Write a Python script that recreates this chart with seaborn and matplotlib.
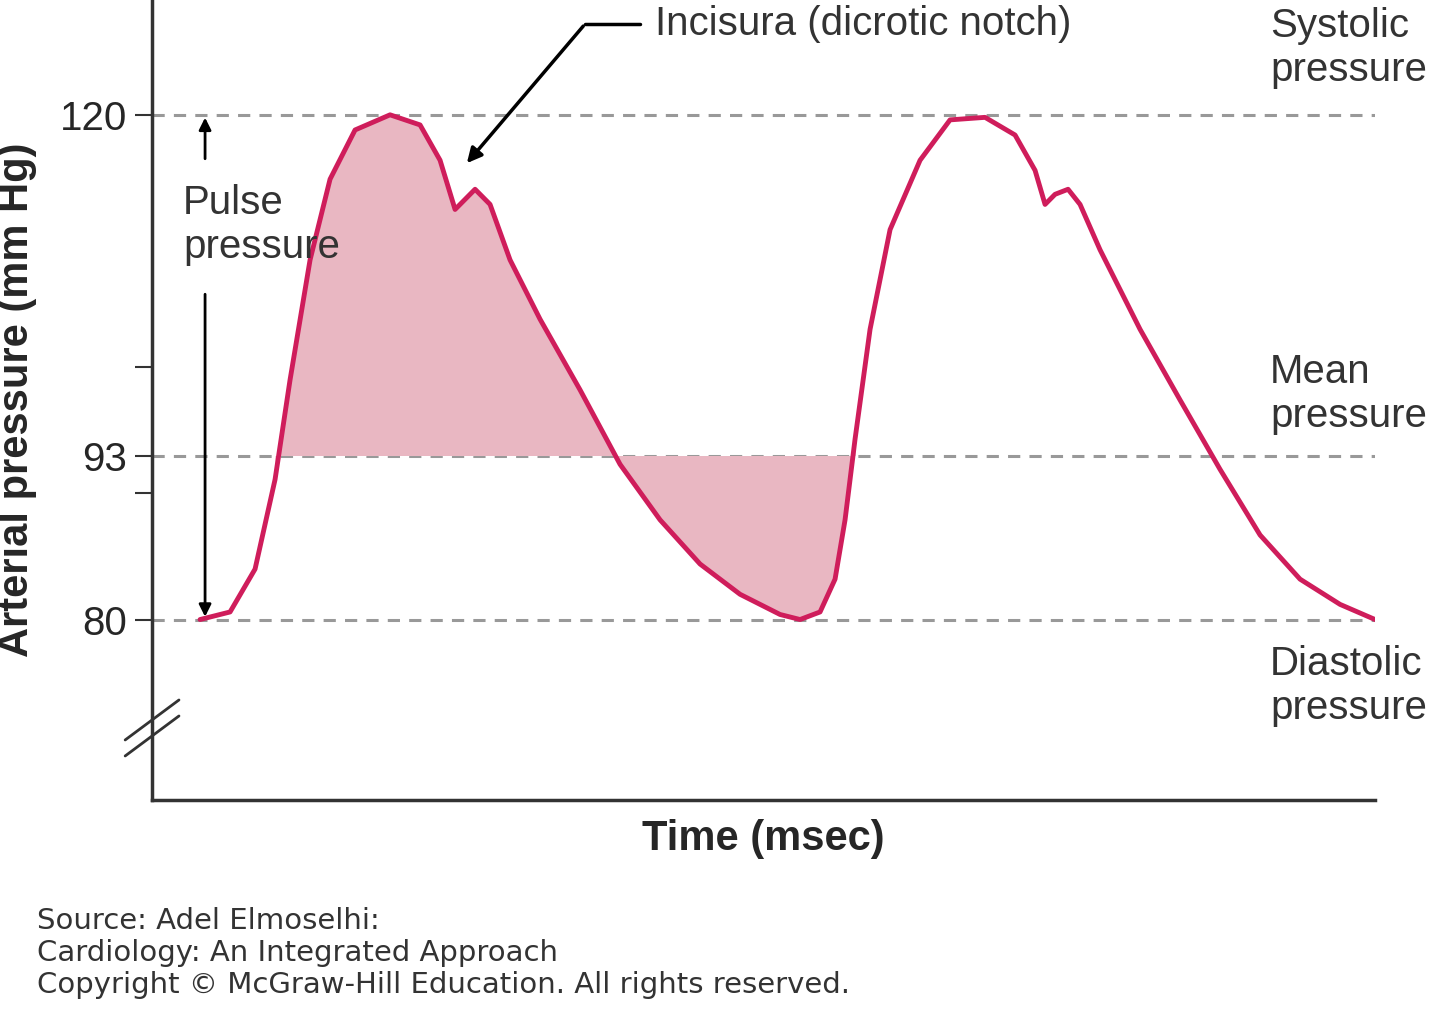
import numpy as np
import seaborn as sns
import matplotlib.pyplot as plt

# time (arbitrary msec) and arterial pressure (mm Hg)
time_ms = [0, 30, 55, 75, 90, 110, 130, 155, 190, 220, 240, 255, 265, 275, 290, 310, 340,
           380, 420, 460, 500, 540, 580, 600, 620, 635, 645, 655, 670, 690, 720, 750, 785,
           815, 835, 845, 855, 868, 880, 900, 940, 980, 1020, 1060, 1100, 1140, 1175]
pressure = [80, 80.6, 84.0, 91.1, 99.0, 108.5, 114.9, 118.8, 120, 119.2, 116.4, 112.5, 113.3,
            114.1, 112.9, 108.5, 103.8, 98.2, 92.3, 87.9, 84.4, 82.0, 80.4, 80, 80.6, 83.2,
            87.9, 94.3, 103.0, 110.9, 116.4, 119.6, 119.8, 118.4, 115.6, 112.9, 113.7, 114.1,
            112.9, 109.3, 103.0, 97.4, 91.9, 86.7, 83.2, 81.2, 80]
systolic, mean_p, diastolic = 120, 93, 80
tick_values = [80, 93, 120]
minor_ticks = [90, 100]

sns.set_theme(style="white")
plt.rcParams['font.family'] = ['Liberation Sans', 'DejaVu Sans']

line_col = "#cf1d5b"
fill_col = "#e9b7c2"

fig = plt.figure(figsize=(14.4, 10.13), dpi=100)
ax = fig.add_axes([0.1056, 0.2103, 0.8493, 0.7897])

t = np.array(time_ms)
p = np.array(pressure)
ax.fill_between(t, p, mean_p, where=(t >= 70) & (t <= 660), interpolate=True,
                color=fill_col, lw=0, zorder=1)
sns.lineplot(x=t, y=p, ax=ax, color=line_col, lw=3.5, zorder=3)

for v in [systolic, mean_p, diastolic]:
    ax.axhline(v, color="#999999", ls=(0, (4, 3)), lw=2.2, zorder=0)

ax.set_xlim(-48, 1175)
ax.set_ylim(65.7, 129.1)
ax.set_xticks([])
ax.set_yticks(tick_values)
ax.set_yticks(minor_ticks, minor=True)
ax.tick_params(axis='y', which='both', direction='out', left=True, length=12, width=1.5,
               labelsize=29, color="#333333", pad=6)
for s in ['top', 'right']:
    ax.spines[s].set_visible(False)
for s in ['left', 'bottom']:
    ax.spines[s].set_color("#333333")
    ax.spines[s].set_linewidth(2.5)

# axis break marks
ax.plot([0, 0], [0.07, 0.11], transform=ax.transAxes, color="white", lw=6, clip_on=False)
for off in [0.0, 0.02]:
    ax.plot([-0.022, 0.022], [0.055 + off, 0.105 + off], transform=ax.transAxes,
            color="#333333", lw=2, clip_on=False)

ax.set_ylabel("Arterial pressure (mm Hg)", fontsize=30, fontweight="bold", labelpad=16)
ax.set_xlabel("Time (msec)", fontsize=30, fontweight="bold", labelpad=14)

tkw = dict(fontsize=29, color="#333333", va="center", ha="left")
ax.text(1070, 125.3, "Systolic\npressure", **tkw)
ax.text(1070, 97.9, "Mean\npressure", **tkw)
ax.text(1070, 74.7, "Diastolic\npressure", **tkw)

# pulse pressure arrow
ax.text(-17, 111.3, "Pulse\npressure", **tkw)
ax.annotate("", xy=(5, 120), xytext=(5, 116.3),
            arrowprops=dict(arrowstyle="-|>", color="black", lw=2, mutation_scale=18))
ax.annotate("", xy=(5, 80), xytext=(5, 106.0),
            arrowprops=dict(arrowstyle="-|>", color="black", lw=2, mutation_scale=18))

# incisura
ax.plot([385, 440], [127.2, 127.2], color="black", lw=2.5)
ax.annotate("", xy=(265, 116.0), xytext=(385, 127.2),
            arrowprops=dict(arrowstyle="-|>", color="black", lw=2.5, mutation_scale=22))
ax.text(455, 127.2, "Incisura (dicrotic notch)", **tkw)

fig.text(0.026, 0.105, "Source: Adel Elmoselhi:\nCardiology: An Integrated Approach\n"
         "Copyright © McGraw-Hill Education. All rights reserved.",
         fontsize=21, color="#333333", va="top", ha="left", family=['DejaVu Sans'],
         linespacing=1.2)

fig.savefig("out.png", dpi=100)
